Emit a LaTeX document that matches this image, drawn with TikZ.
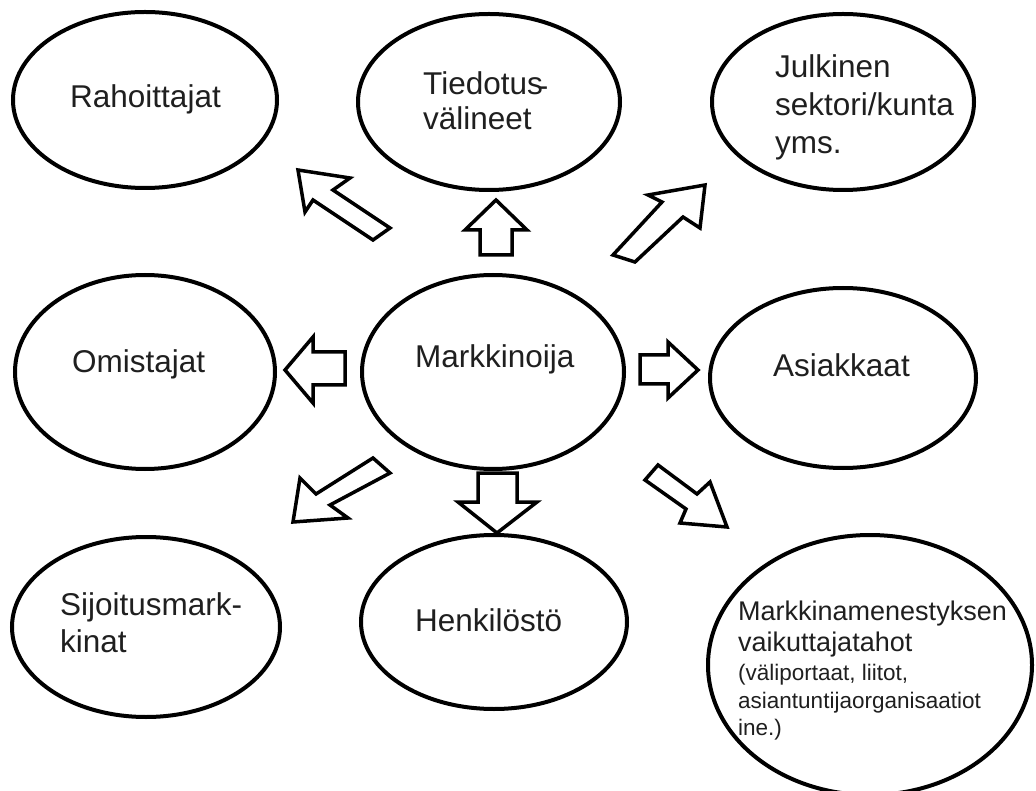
\documentclass[tikz,border=0pt]{standalone}
\usepackage{fontspec}
\setmainfont{Liberation Sans}
\usetikzlibrary{shapes.geometric}
\begin{document}
\begin{tikzpicture}[x=1pt,y=-1pt,
  ell/.style={draw, ellipse, line width=4pt, inner sep=0pt, fill=white},
  lbl/.style={anchor=base west, inner sep=0pt, text=black!88, font=\fontsize{31.5}{37}\selectfont},
  lblm/.style={lbl, font=\fontsize{27}{31}\selectfont},
  lbls/.style={lbl, font=\fontsize{22.5}{27}\selectfont},
  blk/.style={draw, line width=3.5pt, line join=miter, fill=white}]
\useasboundingbox (0,0) rectangle (1036,791);
\clip (0,0) rectangle (1036,791);
\fill[white] (0,0) rectangle (1036,791);

% ellipses
\node[ell, minimum width=264pt, minimum height=176pt] (rah) at (145,100) {};
\node[ell, minimum width=262pt, minimum height=176pt] (tie) at (489,102) {};
\node[ell, minimum width=262pt, minimum height=176pt] (jul) at (843,102) {};
\node[ell, minimum width=260pt, minimum height=194pt] (omi) at (145,372) {};
\node[ell, minimum width=262pt, minimum height=194pt] (mar) at (493,372) {};
\node[ell, minimum width=266pt, minimum height=180pt] (asi) at (843,378) {};
\node[ell, minimum width=268pt, minimum height=180pt] (sij) at (146,627) {};
\node[ell, minimum width=266pt, minimum height=174pt] (hen) at (494,622) {};
\node[ell, minimum width=324pt, minimum height=260pt] (mme) at (870,665) {};

% labels
\node[lbl] (trah) at (70,108) {Rahoittajat};
\node[lbl] (ttie1) at (423,95) {Tiedotus\kern-5pt\raisebox{-2pt}{-}};
\node[lbl] (ttie2) at (423,130) {välineet};
\node[lbl] (tjul1) at (775,78) {Julkinen};
\node[lbl] (tjul2) at (775,116) {sektori/kunta};
\node[lbl] (tjul3) at (775,154) {yms.};
\node[lbl] (tomi) at (72,373) {Omistajat};
\node[lbl] (tmar) at (415,368) {Markkinoija};
\node[lbl] (tasi) at (773,377) {Asiakkaat};
\node[lbl] (tsij1) at (60,615) {Sijoitusmark-};
\node[lbl] (tsij2) at (60,652) {kinat};
\node[lbl] (then) at (415,631) {Henkilöstö};
\node[lblm] (tmme1) at (738,620) {Markkinamenestyksen};
\node[lblm] (tmme2) at (738,651) {vaikuttajatahot};
\node[lbls] (tmme3) at (738,680) {(väliportaat, liitot,};
\node[lbls] (tmme4) at (738,708) {asiantuntijaorganisaatiot};
\node[lbls] (tmme5) at (738,735) {ine.)};

% block arrows
% up
\draw[blk] (496,200) -- (527,230) -- (512,230) -- (512,255) -- (480,255) -- (480,230) -- (465,230) -- cycle;
% left
\draw[blk] (285,370) -- (313,337) -- (313,352) -- (345,352) -- (345,385) -- (313,385) -- (313,403) -- cycle;
% right
\draw[blk] (698,370) -- (668,342) -- (668,355) -- (640,355) -- (640,384) -- (668,384) -- (668,398) -- cycle;
% down
\draw[blk] (478,473) -- (517,473) -- (517,502) -- (537,502) -- (497,533) -- (458,502) -- (478,502) -- cycle;
% upper left
\draw[blk] (298,170) -- (350,178) -- (333,190) -- (390,228) -- (373,240) -- (313,200) -- (305,212) -- cycle;
% upper right
\draw[blk] (705,185) -- (648,195) -- (662,202) -- (613,255) -- (635,262) -- (683,217) -- (700,228) -- cycle;
% lower left
\draw[blk] (293,522) -- (300,478) -- (316,494) -- (373,458) -- (390,473) -- (330,505) -- (348,518) -- cycle;
% lower right
\draw[blk] (727,527) -- (710,482) -- (697,494) -- (658,465) -- (645,480) -- (686,509) -- (680,523) -- cycle;
\end{tikzpicture}
\end{document}
